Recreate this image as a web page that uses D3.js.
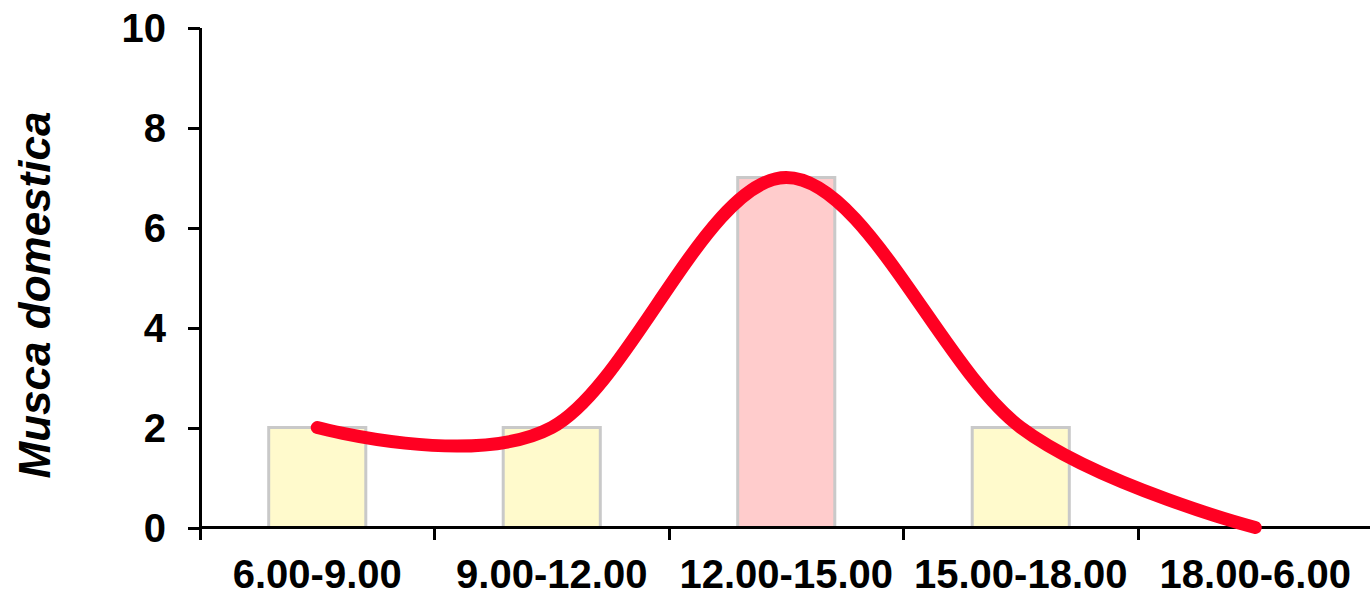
<!DOCTYPE html>
<meta charset="utf-8">
<style>
    body {
        margin: 0;
        background-color: #ffffff;
    }

    .axis text {
        font: bold 40px "Liberation Sans", Arial, sans-serif;
        fill: #000;
    }

    .axis path,
    .axis line {
        fill: none;
        stroke: #000;
        stroke-width: 3px;
        shape-rendering: crispEdges;
    }
</style>

<body>
    <svg width="1370" height="595"></svg>
    <script src="https://d3js.org/d3.v7.min.js"></script>
    <script>
        // chart data
        var categories = ["6.00-9.00", "9.00-12.00", "12.00-15.00", "15.00-18.00", "18.00-6.00"];
        var counts = [2, 2, 7, 2, 0];
        var barColours = ["#fffacc", "#fffacc", "#ffcccc", "#fffacc", "#fffacc"];
        var yTicks = [0, 2, 4, 6, 8, 10];

        var svg = d3.select("svg"),
            margin = {
                top: 27.5,
                right: 0,
                bottom: 67.5,
                left: 200
            },
            width = +svg.attr("width") - margin.left - margin.right,
            height = +svg.attr("height") - margin.top - margin.bottom;

        var data = categories.map(function (c, i) {
            return { cat: c, count: counts[i], colour: barColours[i] };
        });

        var x = d3.scaleBand()
            .domain(categories)
            .range([0, 1172.5])
            .paddingInner(0.586)
            .paddingOuter(0.293);

        var y = d3.scaleLinear().domain([0, 10]).range([height, 0]);

        var g = svg.append("g")
            .attr("transform", "translate(" + margin.left + "," + margin.top + ")");

        // bars
        g.selectAll(".bar")
            .data(data)
            .enter().append("rect")
            .attr("class", "bar")
            .attr("x", function (d) { return x(d.cat); })
            .attr("y", function (d) { return y(d.count); })
            .attr("width", x.bandwidth())
            .attr("height", function (d) { return height - y(d.count); })
            .attr("fill", function (d) { return d.colour; })
            .attr("stroke", "#c9c9c9")
            .attr("stroke-width", 3);

        // x axis with ticks on band edges
        var xAxis = g.append("g")
            .attr("class", "axis axis--x")
            .attr("transform", "translate(0," + height + ")");

        xAxis.append("line")
            .attr("x1", 0).attr("x2", width)
            .attr("y1", 0).attr("y2", 0);

        var step = x.step();
        xAxis.selectAll(".tick")
            .data(d3.range(categories.length + 1))
            .enter().append("line")
            .attr("class", "tick")
            .attr("x1", function (i) { return i * step; })
            .attr("x2", function (i) { return i * step; })
            .attr("y1", 0).attr("y2", 12);

        xAxis.selectAll(".lbl")
            .data(categories)
            .enter().append("text")
            .attr("class", "lbl")
            .attr("x", function (d) { return x(d) + x.bandwidth() / 2; })
            .attr("y", 60)
            .attr("text-anchor", "middle")
            .text(function (d) { return d; });

        // y axis
        g.append("g")
            .attr("class", "axis axis--y")
            .call(d3.axisLeft(y).tickValues(yTicks).tickSize(12).tickSizeOuter(0).tickPadding(22))
            .selectAll("text")
            .attr("dy", "0.36em");

        g.select(".axis--y .domain").attr("d", "M0," + height + "V0");

        // axis title
        svg.append("text")
            .attr("transform", "translate(50,295) rotate(-90)")
            .attr("text-anchor", "middle")
            .style("font", "italic bold 44px 'Liberation Sans', Arial, sans-serif")
            .text("Musca domestica");

        // smoothed line
        var line = d3.line()
            .x(function (d) { return x(d.cat) + x.bandwidth() / 2; })
            .y(function (d) { return y(d.count); })
            .curve(d3.curveCardinal.tension(0));

        g.append("path")
            .datum(data)
            .attr("d", line)
            .attr("fill", "none")
            .attr("stroke", "#ff0022")
            .attr("stroke-width", 13)
            .attr("stroke-linecap", "round");
    </script>
</body>
